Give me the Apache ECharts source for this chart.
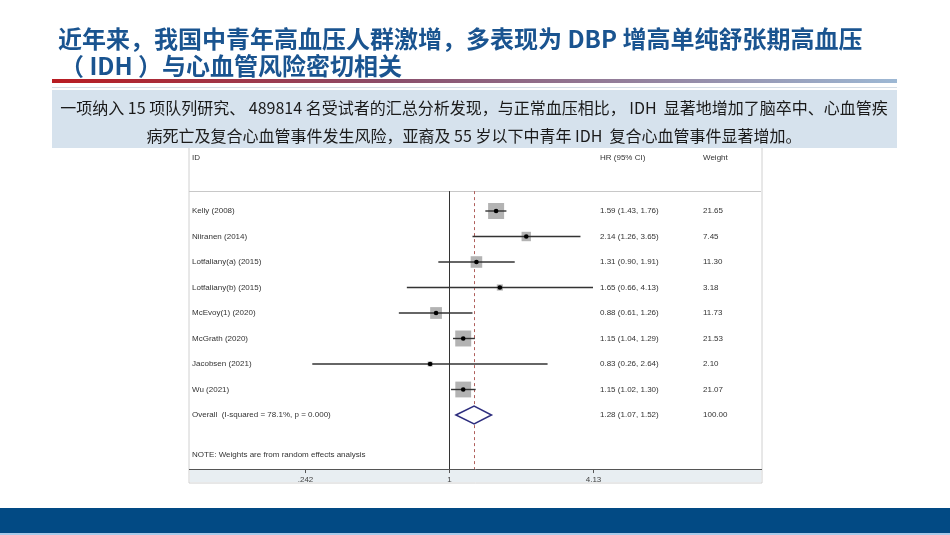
<!DOCTYPE html>
<html>
<head>
<meta charset="utf-8">
<script src="https://cdn.jsdelivr.net/npm/echarts@6/dist/echarts.min.js"></script>
<style>
  html, body { margin: 0; padding: 0; background: #fff; }
  #main { width: 950px; height: 535px; }
</style>
</head>
<body>
<div id="main"></div>
<script>
// forest plot data
const studies = ['Kelly (2008)', 'Niiranen (2014)', 'Lotfaliany(a) (2015)', 'Lotfaliany(b) (2015)',
  'McEvoy(1) (2020)', 'McGrath (2020)', 'Jacobsen (2021)', 'Wu (2021)'];
const hr = [1.59, 2.14, 1.31, 1.65, 0.88, 1.15, 0.83, 1.15];
const lower = [1.43, 1.26, 0.90, 0.66, 0.61, 1.04, 0.26, 1.02];
const upper = [1.76, 3.65, 1.91, 4.13, 1.26, 1.29, 2.64, 1.30];
const weights = [21.65, 7.45, 11.30, 3.18, 11.73, 21.53, 2.10, 21.07];
const overallLabel = 'Overall  (I-squared = 78.1%, p = 0.000)';
const overall = [1.28, 1.07, 1.52]; // hr, lower, upper
const overallWeight = '100.00';
const tickValues = [0.242, 1, 4.13];
const tickLabels = ['.242', '1', '4.13'];

const titleLines = ['近年来，我国中青年高血压人群激增，多表现为 DBP 增高单纯舒张期高血压', '（ IDH ）与心血管风险密切相关'];
const boxLines = ['一项纳入 15 项队列研究、 489814 名受试者的汇总分析发现，与正常血压相比， IDH  显著地增加了脑卒中、心血管疾',
  '病死亡及复合心血管事件发生风险，亚裔及 55 岁以下中青年 IDH  复合心血管事件显著增加。'];

const fmt = v => v.toFixed(2);
const ciText = (h, l, u) => fmt(h) + ' (' + fmt(l) + ', ' + fmt(u) + ')';

// row positions (y axis units)
const headerRow = -2.08, lineRow = -0.78, noteRow = 9.57, axisRow = 10.12;
const overallRow = studies.length;
const plotFont = '8px "Liberation Sans", Arial, sans-serif';
const cjk = '"Noto Sans CJK SC", sans-serif';
const titleStyle = { fill: '#1A5490', font: 'bold 24px ' + cjk, textVerticalAlign: 'middle',
  shadowColor: 'rgba(0,0,0,0.3)', shadowBlur: 2, shadowOffsetX: 1, shadowOffsetY: 1 };

const chart = echarts.init(document.getElementById('main'));

const option = {
  animation: false,
  grid: { left: 305, width: 288, top: 160, height: 306 },
  xAxis: { type: 'log', logBase: 10, min: 0.242, max: 4.13, show: false },
  yAxis: { type: 'value', inverse: true, min: -2, max: 10, show: false },
  graphic: [
    // title
    { type: 'text', z: 1, style: Object.assign({ text: titleLines[0], x: 58, y: 39 }, titleStyle) },
    { type: 'text', z: 1, style: Object.assign({ text: titleLines[1], x: 60, y: 65.5 }, titleStyle) },
    { type: 'rect', z: 1, shape: { x: 52, y: 79, width: 845, height: 4 },
      style: { fill: new echarts.graphic.LinearGradient(0, 0, 1, 0, [
        { offset: 0, color: '#B81C22' }, { offset: 0.4, color: '#8A4D6A' }, { offset: 1, color: '#9DB8D4' }]) } },
    { type: 'rect', z: 1, shape: { x: 52, y: 87, width: 845, height: 1 }, style: { fill: '#D5DDE5' } },
    // forest panel
    { type: 'rect', z: 0, shape: { x: 189, y: 146, width: 573, height: 337 }, style: { fill: '#fff', stroke: '#d0d0d0', lineWidth: 1 } },
    { type: 'rect', z: 0, shape: { x: 190, y: 469, width: 571, height: 13 }, style: { fill: '#E8EEF2' } },
    { type: 'line', z: 0, shape: { x1: 189, y1: 191.5, x2: 761, y2: 191.5 }, style: { stroke: '#c8c8c8', lineWidth: 1 } },
    { type: 'line', z: 0, shape: { x1: 189, y1: 469.5, x2: 762, y2: 469.5 }, style: { stroke: '#555', lineWidth: 1 } },
    // text box
    { type: 'rect', z: 1, shape: { x: 52, y: 90, width: 845, height: 58 }, style: { fill: '#D6E2ED' } },
    { type: 'text', z: 1, style: { text: boxLines[0], x: 474, y: 108, fill: '#1a1a1a', font: '16px ' + cjk, textAlign: 'center', textVerticalAlign: 'middle' } },
    { type: 'text', z: 1, style: { text: boxLines[1], x: 474, y: 136, fill: '#1a1a1a', font: '16px ' + cjk, textAlign: 'center', textVerticalAlign: 'middle' } },
    // footer
    { type: 'rect', z: 1, shape: { x: 0, y: 508, width: 950, height: 25 }, style: { fill: '#024A84' } },
    { type: 'rect', z: 1, shape: { x: 0, y: 533, width: 950, height: 2 }, style: { fill: '#A9CBEA' } }
  ],
  series: [
    {
      // reference lines: null effect and overall estimate
      type: 'custom',
      clip: false,
      z: 2,
      data: [[1, 0], [overall[0], 1]],
      renderItem: function (params, api) {
        const x = api.value(0);
        const top = api.coord([x, lineRow]);
        const bot = api.coord([x, axisRow]);
        const dashed = api.value(1) === 1;
        return {
          type: 'line',
          shape: { x1: Math.round(top[0]) + 0.5, y1: top[1], x2: Math.round(top[0]) + 0.5, y2: bot[1] },
          style: dashed ? { stroke: '#B0605C', lineWidth: 1, lineDash: [3, 3] } : { stroke: '#333', lineWidth: 1 }
        };
      }
    },
    {
      // study estimates
      type: 'custom',
      clip: false,
      z: 3,
      data: studies.map((s, i) => [hr[i], i, lower[i], upper[i], weights[i]]),
      renderItem: function (params, api) {
        const row = api.value(1);
        const c = api.coord([api.value(0), row]);
        const l = api.coord([api.value(2), row]);
        const u = api.coord([api.value(3), row]);
        const side = 3.44 * Math.sqrt(api.value(4));
        return {
          type: 'group',
          children: [
            { type: 'rect', shape: { x: c[0] - side / 2, y: c[1] - side / 2, width: side, height: side }, style: { fill: '#B3B3B3' } },
            { type: 'line', shape: { x1: l[0], y1: c[1], x2: u[0], y2: c[1] }, style: { stroke: '#333', lineWidth: 1.4 } },
            { type: 'circle', shape: { cx: c[0], cy: c[1], r: 2.3 }, style: { fill: '#000' } }
          ]
        };
      }
    },
    {
      // pooled estimate diamond
      type: 'custom',
      clip: false,
      z: 3,
      data: [[overall[0], overallRow, overall[1], overall[2]]],
      renderItem: function (params, api) {
        const row = api.value(1);
        const c = api.coord([api.value(0), row]);
        const l = api.coord([api.value(2), row]);
        const u = api.coord([api.value(3), row]);
        const h = 9;
        return {
          type: 'polygon',
          shape: { points: [[l[0], c[1]], [c[0], c[1] - h], [u[0], c[1]], [c[0], c[1] + h]] },
          style: { fill: '#fff', stroke: '#2E2E7E', lineWidth: 1.5 }
        };
      }
    },
    {
      // x axis ticks and labels
      type: 'custom',
      clip: false,
      z: 3,
      data: tickValues.map((v, i) => [v, i]),
      renderItem: function (params, api) {
        const p = api.coord([api.value(0), axisRow]);
        const x = Math.round(p[0]) + 0.5;
        return {
          type: 'group',
          children: [
            { type: 'line', shape: { x1: x, y1: p[1], x2: x, y2: p[1] + 4 }, style: { stroke: '#555', lineWidth: 1 } },
            { type: 'text', style: { text: tickLabels[api.value(1)], x: x, y: p[1] + 11, fill: '#444', font: plotFont, textAlign: 'center', textVerticalAlign: 'middle' } }
          ]
        };
      }
    },
    {
      // table text columns
      type: 'custom',
      clip: false,
      z: 3,
      data: studies.map((s, i) => [1, i]).concat([[1, overallRow], [1, headerRow], [1, noteRow]]),
      renderItem: function (params, api) {
        const i = params.dataIndex;
        const y = api.coord([1, api.value(1)])[1];
        let id, ci = '', w = '';
        if (i < studies.length) {
          id = studies[i]; ci = ciText(hr[i], lower[i], upper[i]); w = fmt(weights[i]);
        } else if (i === studies.length) {
          id = overallLabel; ci = ciText(overall[0], overall[1], overall[2]); w = overallWeight;
        } else if (i === studies.length + 1) {
          id = 'ID'; ci = 'HR (95% CI)'; w = 'Weight';
        } else {
          id = 'NOTE: Weights are from random effects analysis';
        }
        const st = (t, x) => ({ type: 'text', style: { text: t, x: x, y: y, fill: '#333', font: plotFont, textVerticalAlign: 'middle' } });
        return { type: 'group', children: [st(id, 192), st(ci, 600), st(w, 703)] };
      }
    }
  ]
};
chart.setOption(option);
</script>
</body>
</html>
